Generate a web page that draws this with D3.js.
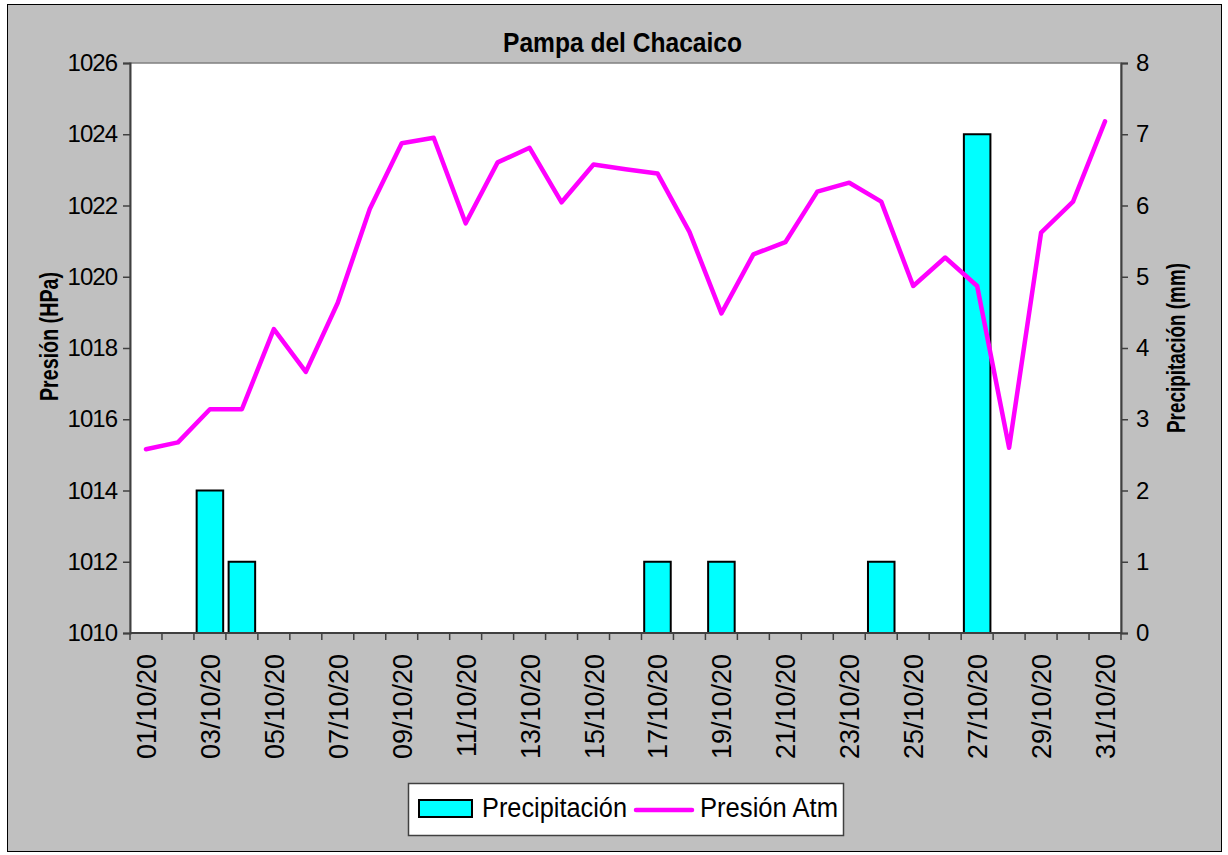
<!DOCTYPE html>
<html><head><meta charset="utf-8">
<script src="https://cdn.jsdelivr.net/npm/d3@7"></script>
<style>body{margin:0;background:#fff}text{font-family:"Liberation Sans",Arial,sans-serif;fill:#000}</style>
</head><body>
<svg id="c" width="1228" height="855"></svg>
<script>
const categories = ["01/10/20","02/10/20","03/10/20","04/10/20","05/10/20","06/10/20","07/10/20","08/10/20","09/10/20","10/10/20",
  "11/10/20","12/10/20","13/10/20","14/10/20","15/10/20","16/10/20","17/10/20","18/10/20","19/10/20","20/10/20",
  "21/10/20","22/10/20","23/10/20","24/10/20","25/10/20","26/10/20","27/10/20","28/10/20","29/10/20","30/10/20","31/10/20"];
const precipitacion = [0,0,2,1,0,0,0,0,0,0,0,0,0,0,0,0,1,0,1,0,0,0,0,1,0,0,7,0,0,0,0];
const presion = [1015.16,1015.35,1016.28,1016.28,1018.53,1017.33,1019.27,1021.90,1023.75,1023.90,
  1021.50,1023.21,1023.62,1022.09,1023.15,1023.02,1022.90,1021.26,1018.97,1020.63,
  1020.97,1022.39,1022.64,1022.11,1019.74,1020.54,1019.74,1015.20,1021.24,1022.11,1024.36];
const presionTicks = [1010,1012,1014,1016,1018,1020,1022,1024,1026];
const precipTicks = [0,1,2,3,4,5,6,7,8];
const xTickLabels = ["01/10/20","03/10/20","05/10/20","07/10/20","09/10/20","11/10/20","13/10/20","15/10/20",
  "17/10/20","19/10/20","21/10/20","23/10/20","25/10/20","27/10/20","29/10/20","31/10/20"];
const title = "Pampa del Chacaico";
const yLeftTitle = "Presión (HPa)";
const yRightTitle = "Precipitación (mm)";
const seriesNames = ["Precipitación","Presión Atm"];

const svg = d3.select("#c");
const L = 130, R = 1121, T = 63, B = 633;
const axisCol = "#404040";

// chart frame
svg.append("rect").attr("x",7.5).attr("y",4.5).attr("width",1214).attr("height",847)
  .attr("fill","#c0c0c0").attr("stroke","#000").attr("stroke-width",1);
// plot area
svg.append("rect").attr("x",L).attr("y",T).attr("width",R-L).attr("height",B-T)
  .attr("fill","#fff").attr("stroke","#808080").attr("stroke-width",1.5);

const x = d3.scaleBand().domain(categories).range([L,R]).padding(0);
const yL = d3.scaleLinear().domain([1010,1026]).range([B,T]);
const yR = d3.scaleLinear().domain([0,8]).range([B,T]);

// bars
const bw = x.bandwidth()*0.83;
svg.append("g").selectAll("rect").data(categories.map((c,i)=>({c,v:precipitacion[i]})).filter(d=>d.v>0))
  .join("rect")
  .attr("x",d=>x(d.c)+x.bandwidth()/2-bw/2).attr("width",bw)
  .attr("y",d=>yR(d.v)).attr("height",d=>yR(0)-yR(d.v))
  .attr("fill","#00ffff").attr("stroke","#000").attr("stroke-width",2);

// line
const line = d3.line().x((d,i)=>x(categories[i])+x.bandwidth()/2).y(d=>yL(d));
svg.append("path").datum(presion).attr("d",line).attr("fill","none")
  .attr("stroke","#ff00ff").attr("stroke-width",4.5).attr("stroke-linejoin","round").attr("stroke-linecap","round");

// left axis
const gL = svg.append("g").attr("transform",`translate(${L},0)`)
  .call(d3.axisLeft(yL).tickValues(presionTicks).tickFormat(d3.format("d")).tickSize(7).tickPadding(6));
// right axis
const gR = svg.append("g").attr("transform",`translate(${R},0)`)
  .call(d3.axisRight(yR).tickValues(precipTicks).tickFormat(d3.format("d")).tickSize(7).tickPadding(8));
[gL,gR].forEach(g=>{
  g.select(".domain").attr("stroke",axisCol).attr("stroke-width",2);
  g.selectAll(".tick line").attr("stroke",axisCol).attr("stroke-width",1.5);
  g.selectAll(".tick text").attr("font-size",24).attr("letter-spacing",-1).attr("fill","#000")
    .style("font-family","'Liberation Sans',Arial,sans-serif");
});

// bottom axis: ticks between categories
const gB = svg.append("g");
gB.append("line").attr("x1",L).attr("x2",R).attr("y1",B).attr("y2",B).attr("stroke",axisCol).attr("stroke-width",2);
const boundaries = categories.map(c=>x(c)).concat([R]);
gB.selectAll("line.t").data(boundaries).join("line").attr("class","t")
  .attr("x1",d=>d).attr("x2",d=>d).attr("y1",B).attr("y2",B+7).attr("stroke",axisCol).attr("stroke-width",1.5);
gB.selectAll("text").data(xTickLabels).join("text")
  .attr("transform",d=>`translate(${x(d)+x.bandwidth()/2+10},${B+21}) rotate(-90)`)
  .attr("text-anchor","end").attr("font-size",27).text(d=>d);

// title
svg.append("text").attr("x",622.5).attr("y",52).attr("text-anchor","middle")
  .attr("font-size",28).attr("font-weight","bold").attr("textLength",239).attr("lengthAdjust","spacingAndGlyphs").text(title);
// axis titles
svg.append("text").attr("transform","translate(58,336.5) rotate(-90)").attr("text-anchor","middle")
  .attr("font-size",26).attr("font-weight","bold").attr("textLength",129).attr("lengthAdjust","spacingAndGlyphs").text(yLeftTitle);
svg.append("text").attr("transform","translate(1185,348) rotate(-90)").attr("text-anchor","middle")
  .attr("font-size",26).attr("font-weight","bold").attr("textLength",170).attr("lengthAdjust","spacingAndGlyphs").text(yRightTitle);

// legend
const lg = svg.append("g");
lg.append("rect").attr("x",408.5).attr("y",783.5).attr("width",435).attr("height",52)
  .attr("fill","#fff").attr("stroke","#404040").attr("stroke-width",1.5);
lg.append("rect").attr("x",419).attr("y",800).attr("width",53).attr("height",17)
  .attr("fill","#00ffff").attr("stroke","#000").attr("stroke-width",2);
lg.append("text").attr("x",482).attr("y",817).attr("font-size",27).attr("textLength",145).attr("lengthAdjust","spacingAndGlyphs").text(seriesNames[0]);
lg.append("line").attr("x1",636).attr("x2",692).attr("y1",810).attr("y2",810).attr("stroke","#ff00ff").attr("stroke-width",4.5).attr("stroke-linecap","round");
lg.append("text").attr("x",700).attr("y",817).attr("font-size",27).attr("textLength",138).attr("lengthAdjust","spacingAndGlyphs").text(seriesNames[1]);
</script>
</body></html>
